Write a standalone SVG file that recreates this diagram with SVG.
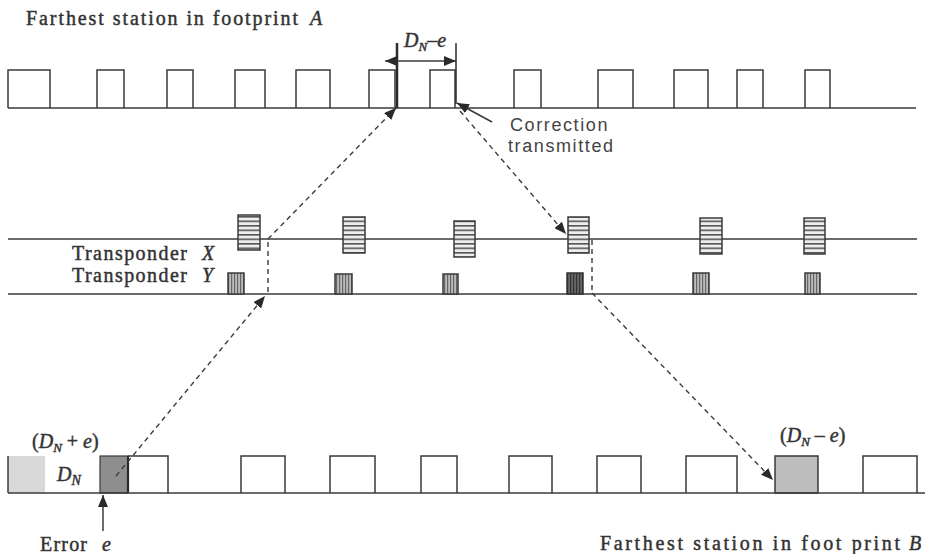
<svg xmlns="http://www.w3.org/2000/svg" width="928" height="554" viewBox="0 0 928 554">
<defs>
<style>
.ln{stroke:#3a3a3a;stroke-width:1.5;fill:none}
.bx{stroke:#3a3a3a;stroke-width:1.5;fill:none}
.dash{stroke:#3a3a3a;stroke-width:1.4;fill:none;stroke-dasharray:5 4}
.sol{stroke:#3a3a3a;stroke-width:1.5;fill:none}
.tx{font-family:"Liberation Serif","Times New Roman",serif;fill:#333;font-size:20px;stroke:#333;stroke-width:0.45}
.it{font-style:italic}
.sans{font-family:"Liberation Sans",Arial,sans-serif;fill:#444;font-size:18px;letter-spacing:1.6px}
.hx{fill:url(#hs);stroke:#3a3a3a;stroke-width:1.5}
.vy{fill:url(#vs);stroke:#3a3a3a;stroke-width:1.5}
</style>
<pattern id="hs" patternUnits="userSpaceOnUse" width="10" height="4.5">
<rect width="10" height="4.5" fill="#eeeeee"/>
<rect y="0" width="10" height="1.6" fill="#555"/>
</pattern>
<pattern id="vs" patternUnits="userSpaceOnUse" width="3" height="10">
<rect width="3" height="10" fill="#bbbbbb"/>
<rect width="1.2" height="10" fill="#666"/>
</pattern>
<pattern id="vd" patternUnits="userSpaceOnUse" width="3" height="10">
<rect width="3" height="10" fill="#666"/>
<rect width="1.2" height="10" fill="#333"/>
</pattern>
<marker id="ah" viewBox="0 0 12 10" refX="12" refY="5" markerWidth="12" markerHeight="10" markerUnits="userSpaceOnUse" orient="auto-start-reverse">
<path d="M0,0 L12,5 L0,10 z" fill="#2a2a2a"/>
</marker>
</defs>
<rect width="928" height="554" fill="#ffffff"/>

<g id="label-top">
<text class="tx" x="26" y="25" textLength="272" lengthAdjust="spacing">Farthest station in footprint</text>
<text class="tx it" x="310" y="25">A</text>
</g>

<g id="footprint-A">
<line class="ln" x1="8" y1="108" x2="916" y2="108"/>
<path class="bx" d="M8,108V70H50V108 M97,108V70H124V108 M167,108V70H193V108 M235,108V70H265V108 M296,108V70H330V108 M369,108V70H395V108 M430,108V70H455V108 M514,108V70H541V108 M598,108V70H633V108 M674,108V70H708V108 M737,108V70H763V108 M805,108V70H830V108"/>
<line x1="397" y1="43" x2="397" y2="108" stroke="#2a2a2a" stroke-width="2.5"/>
<line x1="456" y1="43" x2="456" y2="104" stroke="#2a2a2a" stroke-width="1.5"/>
</g>

<g id="dimension">
<line class="sol" x1="385" y1="61" x2="456" y2="61" marker-start="url(#ah)" marker-end="url(#ah)"/>
<text class="tx it" x="404" y="47" font-size="19">D<tspan font-size="13" dy="4">N</tspan><tspan dy="-4" font-style="normal">–</tspan>e</text>
</g>

<g id="correction-label">
<text class="sans" x="510" y="131">Correction</text>
<text class="sans" x="508" y="152">transmitted</text>
</g>

<g id="transponder-X">
<line class="ln" x1="8" y1="239" x2="917" y2="239"/>
<rect class="hx" x="238" y="215" width="22" height="35"/>
<rect class="hx" x="343" y="217" width="22" height="36"/>
<rect class="hx" x="454" y="221" width="21" height="36"/>
<rect class="hx" x="568" y="217" width="21" height="36"/>
<rect class="hx" x="700" y="218" width="22" height="36"/>
<rect class="hx" x="804" y="218" width="21" height="36"/>
<text class="tx" x="72" y="260" font-size="19" textLength="115" lengthAdjust="spacing">Transponder</text>
<text class="tx it" x="202" y="260" font-size="19">X</text>
</g>

<g id="transponder-Y">
<line class="ln" x1="8" y1="294" x2="917" y2="294"/>
<rect class="vy" x="228" y="273" width="16" height="21"/>
<rect class="vy" x="335" y="274" width="17" height="20"/>
<rect class="vy" x="443" y="274" width="15" height="20"/>
<rect x="567" y="273" width="16" height="21" fill="url(#vd)" stroke="#333" stroke-width="1.5"/>
<rect class="vy" x="693" y="273" width="16" height="21"/>
<rect class="vy" x="805" y="273" width="15" height="21"/>
<text class="tx" x="72" y="282" font-size="19" textLength="115" lengthAdjust="spacing">Transponder</text>
<text class="tx it" x="202" y="282" font-size="19">Y</text>
</g>

<g id="footprint-B">
<rect x="8" y="456" width="37" height="37" fill="#d9d9d9"/>
<rect x="100" y="456" width="28" height="37" fill="#8e8e8e" stroke="#3a3a3a" stroke-width="1.2"/>
<rect x="775" y="456" width="43" height="37" fill="#bdbdbd" stroke="#3a3a3a" stroke-width="1.5"/>
<line x1="8" y1="456" x2="8" y2="493" stroke="#3a3a3a" stroke-width="1.5"/>
<line x1="128" y1="456" x2="128" y2="493" stroke="#2a2a2a" stroke-width="2.2"/>
<line class="ln" x1="8" y1="493" x2="925" y2="493"/>
<path class="bx" d="M128,456H168V493 M241,493V456H285V493 M330,493V456H375V493 M421,493V456H457V493 M509,493V456H552V493 M597,493V456H641V493 M686,493V456H737V493 M863,493V456H917V493"/>
<text class="tx it" x="32" y="448" font-size="19"><tspan font-style="normal">(</tspan>D<tspan font-size="13" dy="4">N</tspan><tspan dy="-4" font-style="normal"> + </tspan>e<tspan font-style="normal">)</tspan></text>
<text class="tx it" x="57" y="481" font-size="21">D<tspan font-size="14" dy="4">N</tspan></text>
<text class="tx it" x="780" y="442" font-size="19"><tspan font-style="normal">(</tspan>D<tspan font-size="13" dy="4">N</tspan><tspan dy="-4" font-style="normal"> – </tspan>e<tspan font-style="normal">)</tspan></text>
</g>

<g id="error-label">
<line class="sol" x1="103" y1="531" x2="103" y2="495" marker-end="url(#ah)"/>
<text class="tx" x="40" y="551" font-size="18" textLength="47" lengthAdjust="spacing">Error</text>
<text class="tx it" x="102" y="551" font-size="18">e</text>
</g>

<g id="label-bottom">
<text class="tx" x="600" y="550" textLength="300" lengthAdjust="spacing">Farthest station in foot print</text>
<text class="tx it" x="909" y="550">B</text>
</g>

<g id="connectors">
<line class="dash" x1="116" y1="476" x2="265" y2="296" marker-end="url(#ah)"/>
<line class="dash" x1="268" y1="292" x2="268" y2="240"/>
<line class="dash" x1="268" y1="239" x2="396" y2="108" marker-end="url(#ah)"/>
<line class="dash" x1="460" y1="111" x2="566" y2="234" marker-end="url(#ah)"/>
<line class="dash" x1="592" y1="240" x2="592" y2="292"/>
<line class="dash" x1="592" y1="293" x2="773" y2="480" marker-end="url(#ah)"/>
<line class="sol" x1="492" y1="122" x2="457" y2="103" marker-end="url(#ah)"/>
</g>
</svg>
